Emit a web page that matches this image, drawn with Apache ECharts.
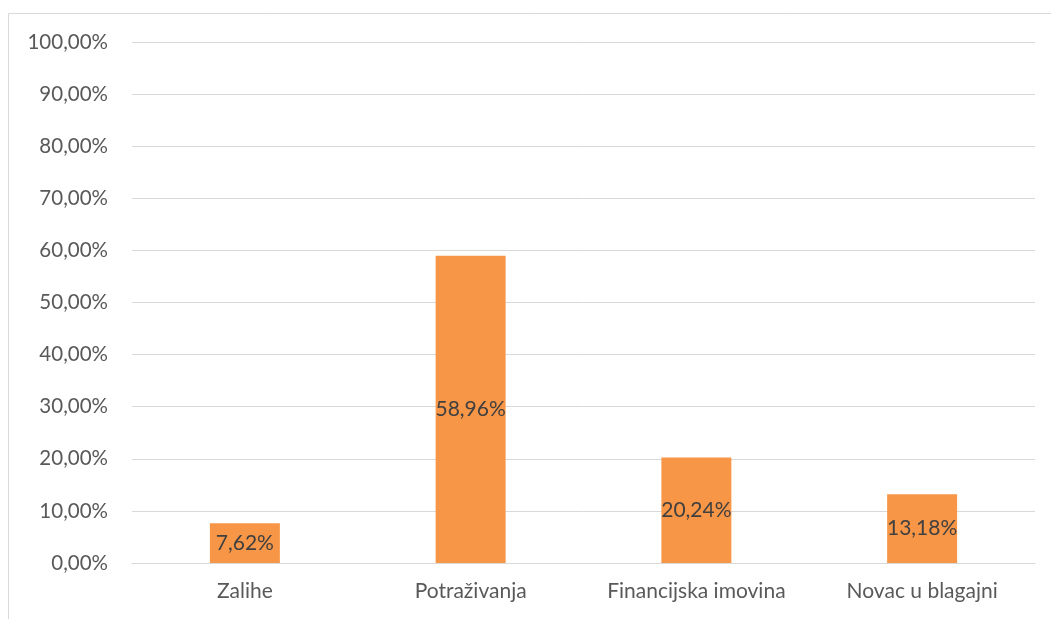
<!DOCTYPE html>
<html>
<head>
<meta charset="utf-8">
<script src="https://cdn.jsdelivr.net/npm/echarts@6/dist/echarts.min.js"></script>
<style>
html,body{margin:0;padding:0;background:#fff;}
#chart{width:1051px;height:619px;}
</style>
</head>
<body>
<div id="chart"></div>
<script>
const categories = ['Zalihe', 'Potraživanja', 'Financijska imovina', 'Novac u blagajni'];
const values = [7.62, 58.96, 20.24, 13.18];

function fmt(v) { return v.toFixed(2).replace('.', ',') + '%'; }

const chart = echarts.init(document.getElementById('chart'));
chart.setOption({
  backgroundColor: '#fff',
  animation: false,
  graphic: [{
    type: 'rect',
    shape: { x: 8.5, y: 13.5, width: 1100, height: 700 },
    style: { fill: 'none', stroke: '#d9d9d9', lineWidth: 1 },
    silent: true
  }],
  grid: { left: 132, right: 16, top: 42, bottom: 56 },
  xAxis: {
    type: 'category',
    data: categories,
    axisLine: { lineStyle: { color: '#d9d9d9', width: 1 } },
    axisTick: { show: false },
    axisLabel: { color: '#595959', fontSize: 21, fontFamily: 'Lato', margin: 18, interval: 0, hideOverlap: false }
  },
  yAxis: {
    type: 'value',
    min: 0, max: 100, interval: 10,
    axisLine: { show: false },
    axisTick: { show: false },
    splitLine: { lineStyle: { color: '#d9d9d9', width: 1 } },
    axisLabel: { color: '#595959', fontSize: 20.5, fontFamily: 'Lato', margin: 24, formatter: v => fmt(v) }
  },
  series: [{
    type: 'bar',
    data: values,
    barWidth: '31%',
    itemStyle: { color: '#F79646' },
    label: {
      show: true, position: 'inside', color: '#404040', fontSize: 21, fontFamily: 'Lato',
      formatter: p => fmt(p.value)
    }
  }]
});
</script>
</body>
</html>
